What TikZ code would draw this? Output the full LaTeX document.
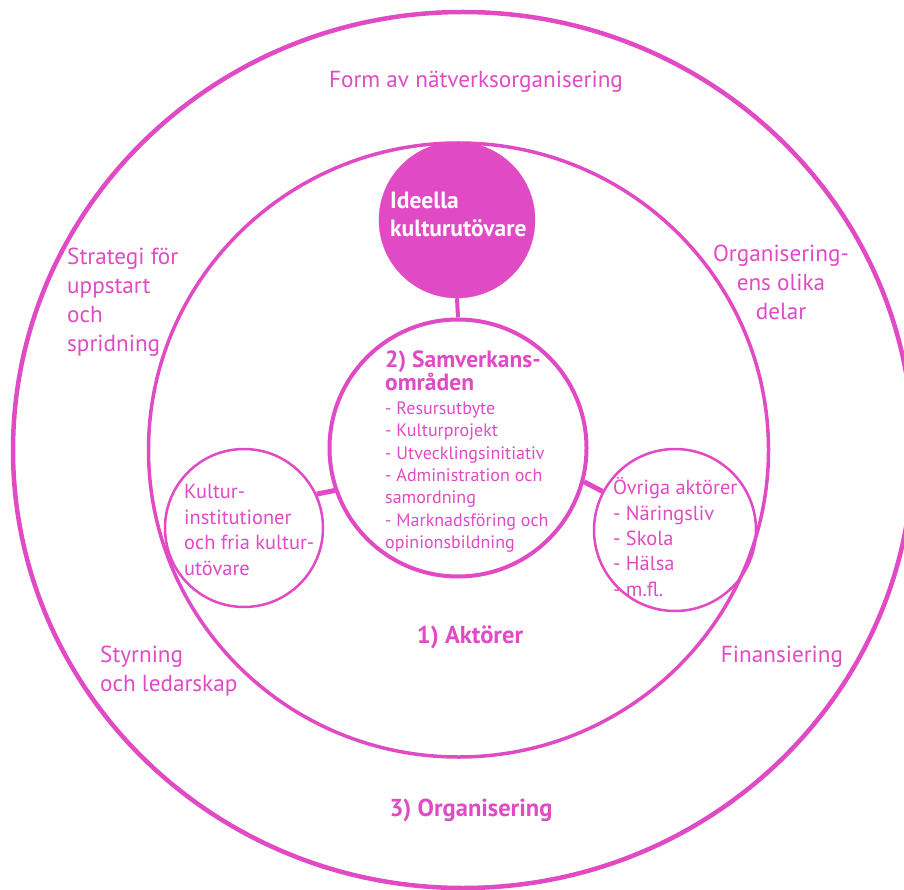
\documentclass[tikz,border=0pt]{standalone}
\usepackage{fontspec}
\setmainfont{PT Sans}
\usetikzlibrary{positioning}
\definecolor{rosa}{RGB}{224,74,196}
\tikzstyle{ring} = [draw=rosa, circle, inner sep=0pt]
\tikzstyle{txt} = [text=rosa, inner sep=0pt, align=left]
\tikzstyle{stor} = [txt, font=\fontsize{23.2}{29}\selectfont]
\tikzstyle{rubrik} = [txt, font=\fontsize{24.5}{23}\selectfont\bfseries]
\tikzstyle{liten} = [txt, font=\fontsize{20.4}{25.4}\selectfont]
\tikzstyle{lista} = [txt, font=\fontsize{18}{22.4}\selectfont]
\tikzstyle{band} = [draw=rosa, line width=5pt]

\begin{document}
\begin{tikzpicture}[x=1pt,y=-1pt]
\useasboundingbox (0,0) rectangle (904,890);
\draw [draw=rosa, line width=4.5pt] (463,450) ellipse (450pt and 438pt);
\draw [draw=rosa, line width=3.5pt] (458.5,450) ellipse (310pt and 307pt);
\node[ring, fill=rosa, minimum size=156pt] (ideella) at (457,220) {};
\node[ring, line width=4pt, minimum size=257pt] (samverkan) at (458,448) {};
\node[ring, line width=2.5pt, minimum size=158pt] (kultinst) at (244,528) {};
\node[ring, line width=2.5pt, minimum size=162pt] (ovriga) at (675,530) {};
\draw [band, line width=4pt] (ideella.south) -- (samverkan.north);
\draw [band] (samverkan.199) -- (kultinst.25);
\draw [band] (samverkan.-15) -- (ovriga.152);
\node[stor] (form) at (476,82) {Form av nätverksorganisering};
\node[stor, anchor=west] (strategi) at (67,302) {Strategi för\\uppstart\\och\\spridning};
\node[stor, align=center] (delar) at (781,282) {Organisering-\\ens olika\\delar};
\node[stor, anchor=west] (styrning) at (100,671) {Styrning\\och ledarskap};
\node[stor] (finans) at (782,657) {Finansiering};
\node[rubrik] (aktorer) at (470,637) {1) Aktörer};
\node[rubrik] (organisering) at (471,810) {3) Organisering};
\node[rubrik, text=white, font=\fontsize{23.5}{28}\selectfont\bfseries, anchor=west] (ideellatxt) at (390,214) {Ideella\\kulturutövare};
\node[rubrik, font=\fontsize{23.5}{23}\selectfont\bfseries, anchor=west] (samtitel) at (385,371) {2) Samverkans-\\områden};
\node[lista, anchor=west] (samlista) at (385,477) {- Resursutbyte\\- Kulturprojekt\\- Utvecklingsinitiativ\\- Administration och\\samordning\\- Marknadsföring och\\opinionsbildning};
\node[liten, anchor=west] (kulttxt) at (184,530) {Kultur-\\institutioner\\och fria kultur-\\utövare};
\node[liten, anchor=west] (ovrigatxt) at (613,537) {Övriga aktörer\\- Näringsliv\\- Skola\\- Hälsa\\- m.fl.};
\end{tikzpicture}
\end{document}
